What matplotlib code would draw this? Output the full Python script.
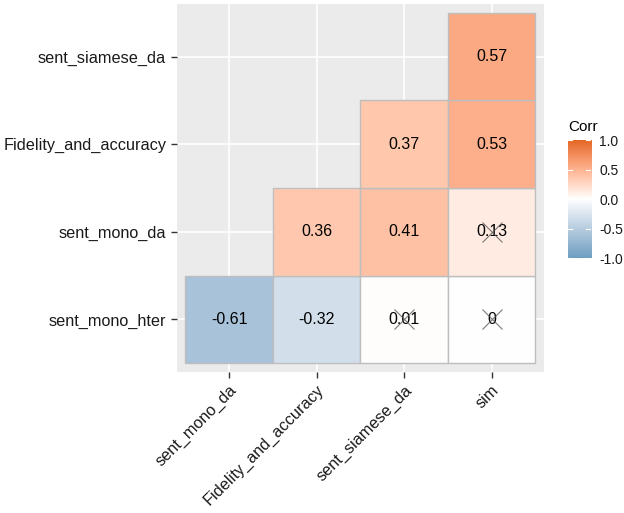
import numpy as np
import matplotlib
matplotlib.use("Agg")
import matplotlib.pyplot as plt
from matplotlib.colors import ListedColormap, Normalize

plt.rcParams['font.family'] = ['Liberation Sans', 'DejaVu Sans']

x_labels = ['sent_mono_da', 'Fidelity_and_accuracy', 'sent_siamese_da', 'sim']
y_labels = ['sent_mono_hter', 'sent_mono_da', 'Fidelity_and_accuracy', 'sent_siamese_da']

# rows follow y_labels (bottom to top), columns follow x_labels
corr = np.array([
    [-0.61, -0.32, 0.01, 0.0],
    [np.nan, 0.36, 0.41, 0.13],
    [np.nan, np.nan, 0.37, 0.53],
    [np.nan, np.nan, np.nan, 0.57],
])
label_text = [
    ['-0.61', '-0.32', '0.01', '0'],
    ['', '0.36', '0.41', '0.13'],
    ['', '', '0.37', '0.53'],
    ['', '', '', '0.57'],
]
insignificant = [(0, 2), (0, 3), (1, 3)]

low_col, mid_col, high_col = '#6D9EC1', '#FFFFFF', '#E46726'


# --- Lab interpolation like ggplot's gradient2 ---
def hex_to_rgb(h):
    h = h.lstrip('#')
    return np.array([int(h[i:i + 2], 16) / 255 for i in (0, 2, 4)])


def srgb_to_lab(rgb):
    c = np.where(rgb <= 0.04045, rgb / 12.92, ((rgb + 0.055) / 1.055) ** 2.4)
    m = np.array([[0.4124, 0.3576, 0.1805],
                  [0.2126, 0.7152, 0.0722],
                  [0.0193, 0.1192, 0.9505]])
    xyz = m @ c / np.array([0.95047, 1.0, 1.08883])
    f = np.where(xyz > 0.008856, np.cbrt(xyz), 7.787 * xyz + 16 / 116)
    return np.array([116 * f[1] - 16, 500 * (f[0] - f[1]), 200 * (f[1] - f[2])])


def lab_to_srgb(lab):
    fy = (lab[0] + 16) / 116
    fx = fy + lab[1] / 500
    fz = fy - lab[2] / 200
    f = np.array([fx, fy, fz])
    xyz = np.where(f ** 3 > 0.008856, f ** 3, (f - 16 / 116) / 7.787)
    xyz = xyz * np.array([0.95047, 1.0, 1.08883])
    m = np.array([[3.2406, -1.5372, -0.4986],
                  [-0.9689, 1.8758, 0.0415],
                  [0.0557, -0.2040, 1.0570]])
    c = m @ xyz
    rgb = np.where(c <= 0.0031308, 12.92 * c, 1.055 * np.clip(c, 0, None) ** (1 / 2.4) - 0.055)
    return np.clip(rgb, 0, 1)


lab_lo, lab_mid, lab_hi = [srgb_to_lab(hex_to_rgb(c)) for c in (low_col, mid_col, high_col)]
cols = []
for t in np.linspace(-1, 1, 256):
    if t < 0:
        lab = lab_mid + (lab_lo - lab_mid) * (-t)
    else:
        lab = lab_mid + (lab_hi - lab_mid) * t
    cols.append(lab_to_srgb(lab))
cmap = ListedColormap(cols)
norm = Normalize(-1, 1)

fig = plt.figure(figsize=(6.24, 5.13), dpi=100)
ax = fig.add_axes([0.283, 0.275, 0.589, 0.717])
ax.set_facecolor('#EBEBEB')

for r in range(len(y_labels)):
    for c in range(len(x_labels)):
        v = corr[r, c]
        if np.isnan(v):
            continue
        ax.add_patch(plt.Rectangle((c + 0.5, r + 0.5), 1, 1, facecolor=cmap(norm(v)),
                                   edgecolor='#BEBEBE', linewidth=1.0, zorder=2))
        ax.text(c + 1, r + 1, label_text[r][c], ha='center', va='center',
                fontsize=11.5, color='black', zorder=4)

for r, c in insignificant:
    ax.plot(c + 1, r + 1, marker='x', markersize=15, color='#5A5A5A',
            markeredgewidth=0.8, alpha=0.8, zorder=5)

ax.set_xlim(0.4, 4.6)
ax.set_ylim(0.4, 4.6)
ax.set_xticks(range(1, 5))
ax.set_yticks(range(1, 5))
ax.set_xticklabels(x_labels, rotation=45, ha='right', va='top', rotation_mode='anchor')
ax.set_yticklabels(y_labels)
ax.tick_params(labelsize=11.7, labelcolor='#1A1A1A', color='#333333', length=4, width=1)
ax.grid(True, color='white', linewidth=1.2, zorder=0)
ax.set_axisbelow(True)
for s in ax.spines.values():
    s.set_visible(False)

# colour bar legend
cax = fig.add_axes([0.910, 0.497, 0.037, 0.230])
grad = np.linspace(-1, 1, 256).reshape(-1, 1)
cax.imshow(grad, cmap=cmap, norm=norm, aspect='auto', origin='lower', extent=(0, 1, -1, 1))
cax.set_xlim(0, 1)
cax.set_ylim(-1, 1)
for s in cax.spines.values():
    s.set_visible(False)
cax.set_xticks([])
cax.yaxis.tick_right()
cax.set_yticks([-1, -0.5, 0, 0.5, 1])
cax.set_yticklabels(['-1.0', '-0.5', '0.0', '0.5', '1.0'])
cax.tick_params(axis='y', length=0, labelsize=10, labelcolor='#1A1A1A', pad=6)
for t in [-1, -0.5, 0, 0.5, 1]:
    cax.plot([0, 0.2], [t, t], color='white', linewidth=0.8)
    cax.plot([0.8, 1], [t, t], color='white', linewidth=0.8)
fig.text(0.910, 0.752, 'Corr', fontsize=11, color='black', ha='left', va='center')

fig.savefig('out.png', dpi=100)
